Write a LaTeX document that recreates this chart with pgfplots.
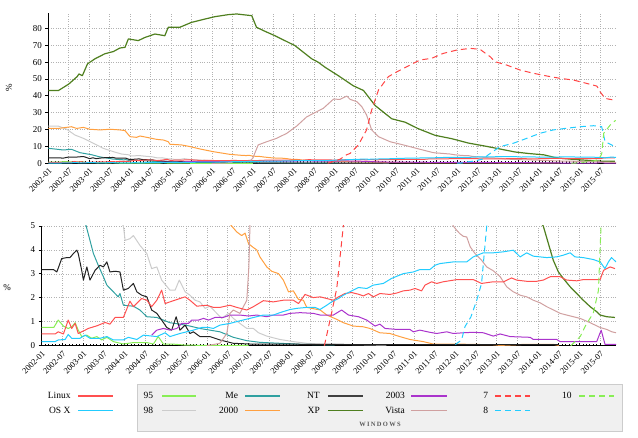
\documentclass[border=0pt]{standalone}
\usepackage{pgfplots}
\pgfplotsset{compat=1.18}
\usepackage{pgfplotstable}
\usepackage{fontspec}
\setmainfont{Liberation Serif}

\definecolor{cLinux}{HTML}{FF5050}
\definecolor{cOSX}{HTML}{22CCFF}
\definecolor{c95}{HTML}{88EE55}
\definecolor{c98}{HTML}{CCCCCC}
\definecolor{cMe}{HTML}{2FA0A0}
\definecolor{c2000}{HTML}{FFA040}
\definecolor{cNT}{HTML}{222222}
\definecolor{cXP}{HTML}{4F7F1F}
\definecolor{c2003}{HTML}{AA33CC}
\definecolor{cVista}{HTML}{D0A0A0}
\definecolor{c7}{HTML}{FF4444}
\definecolor{c8}{HTML}{22CCFF}
\definecolor{c10}{HTML}{88EE55}

\pgfplotstableread{
m v
0 0.49
3.9 0.49
4.8 0.58
6.3 0.49
7.7 1.07
8.7 0.72
9.7 0.93
10.6 0.51
12.6 0.65
13.5 0.72
16 0.83
18.4 0.97
19.8 0.9
21.3 1.18
23.7 1.18
25.6 1.86
26.6 1.63
29 1.97
30.5 1.9
31.9 1.63
33.4 1.9
34.8 2.32
35.8 1.76
37.2 1.83
40.1 1.97
41.6 2.04
43 1.9
45 1.65
47.9 1.69
49.8 1.6
51.7 1.6
54.6 1.69
56.6 1.6
59.5 1.49
61.4 1.63
64.3 1.88
67.2 1.83
70.1 1.9
73 1.9
74.5 1.76
76.4 2.14
78.8 2.01
80.8 2.04
82.7 1.97
84.6 1.9
86.1 2.04
88 2.18
89.9 2.22
91.9 2.15
93.3 2.08
94.8 2.18
96.2 2.04
98.1 2.18
101 2.14
103 2.2
104.9 2.29
106.8 2.32
108.3 2.39
110.2 2.29
111.2 2.53
113.1 2.67
114.6 2.6
116.5 2.67
120.4 2.76
125.2 2.76
127.6 2.6
131 2.67
134 2.67
136.3 2.83
137.8 2.74
140.7 2.69
143.6 2.69
145.5 2.74
147.5 2.88
150.4 2.88
152.3 2.74
155.2 2.71
157.1 2.76
162 2.76
163 3.15
164.9 3.29
166.3 3.22
}\tLinux

\pgfplotstableread{
m v
0 0.17
3.9 0.17
4.8 0.24
6.8 0.26
7.7 0.47
8.7 0.31
11.1 0.31
12.6 0.44
14 0.31
16.9 0.31
18.9 0.38
20.8 0.24
23.7 0.24
25.1 0.35
27.6 0.26
29.5 0.44
33.4 0.38
35.8 0.54
37.2 0.38
40.1 0.51
42.1 0.58
44 0.65
46.4 0.76
48.4 0.76
49.8 0.72
51.7 0.86
54.6 0.93
57.5 1.04
60.4 1.14
64.3 1.28
67.2 1.28
69.1 1.38
72 1.51
74 1.56
76.9 1.6
79.3 1.6
80.7 1.51
82.7 1.69
84.1 1.83
86.1 1.97
87.5 2.11
89.4 2.25
91.9 2.43
94.3 2.39
96.2 2.53
99.1 2.6
101.5 2.81
103 2.9
104.9 3.01
107.8 3.08
109.7 3.18
112.6 3.18
114.1 3.36
115.5 3.43
119.4 3.5
123.3 3.5
125.2 3.71
128.1 3.88
131 3.88
133.9 3.92
136.8 3.99
138.8 3.71
140.7 3.88
142.6 3.74
146.5 3.68
149.4 3.71
151.3 3.78
153.3 3.88
154.7 3.71
157.1 3.68
160 3.6
162 3.5
163.4 3.22
164.4 3.5
165.3 3.68
166.6 3.5
}\tOSX

\pgfplotstableread{
m v
0 0.76
3.5 0.76
4.8 1.07
6.3 0.82
7.7 0.72
8.7 0.79
9.7 0.96
10.6 0.65
11.6 0.38
13.1 0.44
14.5 0.31
16 0.38
17.4 0.24
18.9 0.35
20.8 0.17
23.7 0.07
26.6 0.13
30.5 0.13
32.4 0.07
33.8 0.38
35.3 0.07
38.7 0.06
42 0.02
60 0.01
}\tNinetyFive

\pgfplotstableread{
m v
0 22.1
2.9 22.1
5.4 20.2
7.8 16.8
10.3 14.8
13.2 11.9
16.1 8.9
19.1 6.9
21.5 5.5
23.7 5.0
24.2 4.4
25.6 4.47
26.6 4.6
28.5 4.19
30.5 3.85
31.9 3.22
33.4 3.29
34.8 2.74
37.2 2.32
38.7 2.32
39.9 2.74
41.6 2.25
43 2.11
44.5 1.9
45.9 1.83
47.4 1.56
48.8 1.65
50.8 1.35
52.2 1.14
54.2 1.35
55.6 1.14
57.5 0.93
59.5 0.72
61.4 0.72
62.9 0.54
65.3 0.4
69.1 0.26
73 0.17
76.9 0.1
80.8 0.07
90 0.05
100 0.02
}\tNinetyEight

\pgfplotstableread{
m v
0 8.9
4.4 7.9
6.8 8.3
9.3 6.3
12.9 5.0
14 4.4
15 3.85
16.4 3.36
17.9 2.88
18.9 2.53
20.8 2.25
22.2 2.04
22.7 2.18
23.7 1.69
26.6 1.65
28.5 1.49
30.5 1.21
33.4 1.18
35.3 1.07
37.2 0.96
40.1 0.9
43 0.82
45.9 0.72
48.8 0.65
51.7 0.58
55.6 0.35
59.5 0.21
63.3 0.14
69.1 0.1
75 0.06
85 0.03
}\tMe

\pgfplotstableread{
m v
0 20.7
3 20.7
6.8 21.7
8.3 20.7
10.3 21.3
12.2 20.2
15.2 19.8
18.1 20.2
21 19.8
22.5 19.4
24 15.8
25.9 15.4
26.9 16.2
28.9 15.4
31.8 14.2
33.8 13.8
35.2 12.8
35.7 11.3
39.1 10.9
41.6 9.9
44.5 8.5
48.4 6.9
53.3 5.3
55.1 5.0
56.6 4.75
58 4.6
59 4.7
60 4.26
61.4 4.1
62.4 4.0
63.3 3.71
65.3 3.29
66.7 3.11
68.7 3.01
70.1 2.74
71.6 2.25
73 2.29
74.5 1.93
75.9 1.9
76.9 1.6
80.8 1.49
82.7 1.28
85.6 1.1
87.5 0.96
90.4 0.82
93.3 0.79
95.2 0.72
98.1 0.54
101 0.51
103.9 0.38
106.8 0.26
110.7 0.17
113.6 0.07
123.3 0.06
131 0.04
133 0.01
140.7 0.06
148.4 0.06
150 0.01
}\tTwoThousand

\pgfplotstableread{
m v
0 3.18
3.4 3.18
4.4 3.08
5.8 3.64
7.3 3.68
8.2 3.68
9.2 3.85
10.2 3.99
10.6 3.85
11.6 3.15
12.1 2.74
13.1 3.29
14 2.74
15.5 3.15
16.9 3.36
17.9 3.29
18.9 3.5
19.8 3.08
21.3 3.11
22.7 3.08
23.7 2.32
25.1 2.39
26.6 2.6
27.6 2.25
29 2.11
30.5 2.04
31.9 1.49
33.4 1.35
34.8 1.07
36.3 0.76
37.7 0.65
39 1.21
40.1 0.65
41.6 0.86
43 0.51
44 0.58
45.9 0.38
48.8 0.38
51.7 0.24
55.6 0.1
60.4 0.07
75 0.06
100 0.04
150 0.04
}\tNT

\pgfplotstableread{
m v
0 43.2
3 43.2
6 47
8.5 51.5
9 53
10 52
11.5 59
13.7 62
16.6 65
19.1 66.3
21 68.4
22.5 68.8
23.5 73.8
26.4 72.8
28.4 74.7
31.3 76.7
34.2 75.7
35.2 80.7
38.6 80.7
42 83.6
46 85.6
48.9 87
52.8 88.2
55.3 88.6
57 88.2
59.7 87.6
61.1 80.7
63.6 78.3
66.5 75.7
70.4 71.8
72.4 69.8
77.3 62
79.2 60
81.2 57
85.1 52
89.5 46
92.5 43.2
95.9 34.3
100.8 26.4
104.7 24.4
108.6 20.5
113.5 16.6
118.4 14.6
123.3 12
128.2 10.2
132 8.7
137 6.7
141 5.8
145.5 5.0
148.4 3.57
149.9 3.08
151.3 2.81
153.3 2.46
155.2 2.18
157.1 1.9
159.1 1.63
161 1.42
162 1.28
163.9 1.21
166.3 1.18
}\tXP

\pgfplotstableread{
m v
31.9 0.44
33.4 0.65
35.3 0.72
37.2 0.65
39.2 0.72
40.6 0.93
42.6 0.93
43.5 1.07
45.5 1.07
46.9 1.14
48.4 1.07
50.3 1.18
52.7 1.18
54.6 1.28
57.5 1.28
60 1.24
62.4 1.28
65.3 1.21
67.2 1.28
70.1 1.28
72 1.35
75 1.38
78.8 1.35
80.8 1.28
84.6 1.28
87 1.49
89 1.28
91.9 1.21
94.3 1.07
96.7 0.82
98.1 0.9
99.6 0.72
103 0.68
106.8 0.68
107.8 0.58
109.7 0.65
112.6 0.56
114.6 0.51
117.5 0.58
119.4 0.51
122.3 0.54
125.2 0.56
128.1 0.54
131 0.4
133 0.49
135.9 0.38
141.7 0.35
142.6 0.26
149.4 0.26
150.4 0.17
161 0.17
162.3 0.65
163.4 0.06
166.6 0.06
}\tTwoThousandThree

\pgfplotstableread{
m v
47.9 0
51.7 0.1
53.7 0.51
54.6 1.35
55.6 1.49
57.5 1.35
59.5 1.9
60.1 3.3
60.6 6
61.6 10.9
64.1 12.8
67 14.8
70 17.8
72.9 22.1
75.8 27.5
77.8 29.6
80.7 32.6
83.7 38.1
85.6 37.9
87.6 39.9
88.6 37.9
90.5 36.6
92 33.6
93.4 28.7
94.9 19.8
96.9 15.8
100.3 12.8
104.2 10.9
109.1 8.3
113 6.3
117.9 5.5
119.4 5.0
120.4 4.82
121.3 4.68
122.3 4.57
123.3 4.54
124.3 4.13
125.7 3.85
127.6 3.57
129.1 3.29
131 3.13
133 2.88
134.9 2.46
136.8 2.25
138.8 2.11
140.7 2.04
142.6 1.9
144.6 1.79
146.5 1.63
150.4 1.35
152.3 1.28
156.2 1.14
159.1 0.96
162 0.76
163.9 0.68
165.4 0.58
166.6 0.54
}\tVista

\pgfplotstableread{
m v
82 0
84 1.3
85.6 2.4
87.5 5
88.6 5.9
91 10.9
93.4 19.8
94.9 31.6
96.9 43.5
99.8 51.4
102.3 54.3
105.2 57.3
109.1 61.3
112.5 62.3
115.9 65.2
119.9 67.2
123.8 68.2
126.7 67.6
129.7 63.2
131.1 60.3
134.5 58.3
138.5 55.3
142.4 53.4
146.3 51.8
150.2 50.4
154.1 49.4
158 47.4
161 45.8
161.9 42.5
163.4 38.5
166 37.5
}\tSeven

\pgfplotstableread{
m v
120 0.05
121.8 0.24
122.8 0.8
124.5 1.2
126.2 1.9
127.6 2.6
129.1 5.0
130.5 7.0
132.6 9.9
136.5 11.9
140.4 14.8
144.3 17.8
148.2 19.8
152.1 20.8
156.1 21.7
160 22.3
162.4 21.7
163.4 12.8
166.3 9.9
}\tEight

\pgfplotstableread{
m v
153.5 0
156.2 0.38
158.1 0.93
160 1.35
161.5 2.3
162.4 5.5
163 17.8
164.9 22.7
166.5 25.5
}\tTen

\tikzset{dashed7/.style={dash pattern=on 6pt off 4pt}}

\newcommand{\plotall}{%
  \addplot[c98] table {\tNinetyEight};
  \addplot[cMe] table {\tMe};
  \addplot[c2000] table {\tTwoThousand};
  \addplot[cNT] table {\tNT};
  \addplot[c95] table {\tNinetyFive};
  \addplot[cXP, line width=1.2pt] table {\tXP};
  \addplot[c2003] table {\tTwoThousandThree};
  \addplot[cVista] table {\tVista};
  \addplot[cLinux] table {\tLinux};
  \addplot[cOSX] table {\tOSX};
  \addplot[c7, dashed7] table {\tSeven};
  \addplot[c8, dashed7] table {\tEight};
  \addplot[c10, dashed7] table {\tTen};
}

\pgfplotsset{
  osaxis/.style={
    scale only axis,
    xmin=0, xmax=166.6,
    ymin=0,
    axis x line*=bottom, axis y line*=left,
    xtick={0,6,...,162},
    xticklabels={2002-01,2002-07,2003-01,2003-07,2004-01,2004-07,2005-01,2005-07,2006-01,2006-07,2007-01,2007-07,2008-01,2008-07,2009-01,2009-07,2010-01,2010-07,2011-01,2011-07,2012-01,2012-07,2013-01,2013-07,2014-01,2014-07,2015-01,2015-07},
    xticklabel style={rotate=45, anchor=north east, font=\fontsize{8.5}{9}\selectfont, inner sep=1pt},
    xticklabel shift=3pt,
    yticklabel style={font=\fontsize{9}{10}\selectfont},
    /pgf/number format/assume math mode=true,
    grid=major,
    grid style={dotted, black!30, line width=0.7pt},
    minor x tick num=5,
    xtick align=inside,
    ytick align=outside,
    major tick length=3pt,
    minor tick length=2pt,
    tick style={black, line width=0.8pt},
    axis line style={black, line width=1pt, -},
    every axis plot/.append style={line width=1pt, line join=round, no markers},
  },
}

\begin{document}
\begin{tikzpicture}
\path[use as bounding box] (0,0) rectangle (638pt,438pt);

\begin{axis}[osaxis,
  at={(48.3pt,274.7pt)}, anchor=south west,
  width=567.7pt, height=150pt,
  ymax=89, ytick={0,10,...,80}]
\plotall
\end{axis}

\begin{axis}[osaxis,
  at={(41.7pt,92.3pt)}, anchor=south west,
  width=574.3pt, height=119.7pt,
  ymax=5, ytick={0,1,...,5}]
\plotall
\end{axis}

\node[rotate=90, font=\fontsize{9}{10}\selectfont] at (9pt,350pt) {\%};
\node[font=\fontsize{9}{10}\selectfont] at (7pt,150pt) {\%};

% legend
\begin{scope}[font=\fontsize{9.5}{10}\selectfont]
\node[anchor=east, inner sep=0pt] at (70.7pt,42.3pt) {Linux};
\draw[cLinux, line width=2pt] (78pt,42.3pt) -- (113pt,42.3pt);
\node[anchor=east, inner sep=0pt] at (70.7pt,27.3pt) {OS X};
\draw[cOSX, line width=1.2pt] (78pt,27.3pt) -- (113pt,27.3pt);

\draw[fill=black!6, draw=black!20, line width=1.5pt] (137.7pt,6.7pt) rectangle (622.3pt,53.3pt);

\node[anchor=east, inner sep=0pt] at (153.3pt,42.3pt) {95};
\draw[c95, line width=2pt] (162.3pt,42.3pt) -- (196pt,42.3pt);
\node[anchor=east, inner sep=0pt] at (153.3pt,27.3pt) {98};
\draw[c98, line width=1pt] (162.3pt,27.3pt) -- (196pt,27.3pt);

\node[anchor=east, inner sep=0pt] at (238.3pt,42.3pt) {Me};
\draw[cMe, line width=2pt] (245pt,42.3pt) -- (280pt,42.3pt);
\node[anchor=east, inner sep=0pt] at (238.3pt,27.3pt) {2000};
\draw[c2000, line width=1pt] (245pt,27.3pt) -- (280pt,27.3pt);

\node[anchor=east, inner sep=0pt] at (320pt,42.3pt) {NT};
\draw[black!75, line width=2pt] (328.3pt,42.3pt) -- (363.3pt,42.3pt);
\node[anchor=east, inner sep=0pt] at (320pt,27.3pt) {XP};
\draw[cXP, line width=1pt] (328.3pt,27.3pt) -- (363.3pt,27.3pt);

\node[anchor=east, inner sep=0pt] at (405pt,42.3pt) {2003};
\draw[c2003, line width=2pt] (411pt,42.3pt) -- (446.7pt,42.3pt);
\node[anchor=east, inner sep=0pt] at (405pt,27.3pt) {Vista};
\draw[cVista, line width=1pt] (411pt,27.3pt) -- (446.7pt,27.3pt);

\node[anchor=east, inner sep=0pt] at (488.3pt,42.3pt) {7};
\draw[c7, line width=2pt, dashed7] (495pt,42.3pt) -- (530pt,42.3pt);
\node[anchor=east, inner sep=0pt] at (488.3pt,27.3pt) {8};
\draw[c8, line width=1pt, dashed7] (495pt,27.3pt) -- (530pt,27.3pt);

\node[anchor=east, inner sep=0pt] at (571.7pt,42.3pt) {10};
\draw[c10, line width=2pt, dashed7] (579.3pt,42.3pt) -- (614pt,42.3pt);

\node[font=\fontsize{6.5}{7}\selectfont\bfseries\addfontfeatures{LetterSpace=20}, text=black!65] at (380pt,13.7pt) {WINDOWS};
\end{scope}
\end{tikzpicture}
\end{document}
